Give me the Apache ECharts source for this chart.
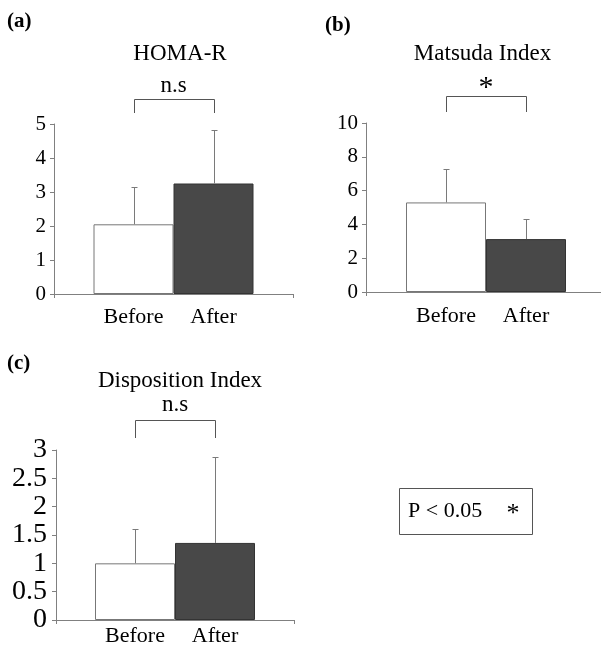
<!DOCTYPE html>
<html><head><meta charset="utf-8">
<script src="https://cdn.jsdelivr.net/npm/echarts@6/dist/echarts.min.js"></script>
<style>html,body{margin:0;padding:0;background:#fff}#c{width:601px;height:648px}</style>
</head><body><div id="c"></div>
<script>
// ---- data ----
const groups = ['Before', 'After'];
const panelTitles = ['HOMA-R', 'Matsuda Index', 'Disposition Index'];
const panelTags = ['(a)', '(b)', '(c)'];
const sigLabels = ['n.s', '*', 'n.s'];
const beforeMeans = [2.05, 5.3, 1.0];
const afterMeans = [3.25, 3.13, 1.36];
const beforeUpper = [3.15, 7.27, 1.6];   // mean + SD
const afterUpper = [4.83, 4.3, 2.88];    // mean + SD
const yMax = [5, 10, 3];
const yInterval = [1, 2, 0.5];
const legendText = 'P < 0.05';
const legendMark = '*';

// ---- styles / layout ----
const FONT = '"Liberation Serif", "Times New Roman", serif';
const AXIS_COLOR = '#808080';
const BAR_W = 80;
const grids = [
  { left: 54, top: 124, width: 239, height: 170 },
  { left: 366, top: 123, width: 240, height: 169 },
  { left: 56, top: 450, width: 238, height: 170 }
];
const tickFont = [21, 21, 28];
const tickMargin = [8, 8, 9];
const catLabelDist = [12, 13, 5];
const bracketOff = [
  { top: 25, bottom: 11, text: -2.5, size: 23 },
  { top: 27, bottom: 11, text: 6.5, size: 30 },
  { top: 30, bottom: 12, text: -4.5, size: 23 }
];
const titlePos = [{ x: 180, y: 54 }, { x: 482.5, y: 53.5 }, { x: 180, y: 380.5 }];
const tagPos = [{ x: 7, y: 22 }, { x: 325, y: 25.5 }, { x: 7, y: 363.5 }];

const chart = echarts.init(document.getElementById('c'), null, { renderer: 'canvas' });

const gridOpts = grids.map(g => Object.assign({ outerBoundsMode: 'none', containLabel: false }, g));
const xAxes = grids.map((g, i) => ({
  type: 'category', gridIndex: i, data: [''],
  axisLine: { show: true, lineStyle: { color: AXIS_COLOR, width: 1 } },
  axisTick: { show: true, length: 4, lineStyle: { color: AXIS_COLOR } },
  axisLabel: { show: false }, splitLine: { show: false }
}));
const yAxes = grids.map((g, i) => ({
  type: 'value', gridIndex: i, min: 0, max: yMax[i], interval: yInterval[i],
  axisLine: { show: true, lineStyle: { color: AXIS_COLOR, width: 1 } },
  axisTick: { show: true, length: 4, lineStyle: { color: AXIS_COLOR } },
  axisLabel: { fontFamily: FONT, fontSize: tickFont[i], color: '#000', margin: tickMargin[i] },
  splitLine: { show: false }
}));

const series = [];
grids.forEach((g, i) => {
  const lbl = {
    show: true, position: 'bottom', distance: catLabelDist[i],
    formatter: p => p.seriesName,
    fontFamily: FONT, fontSize: 22, color: '#000'
  };
  series.push({
    type: 'bar', name: groups[0], xAxisIndex: i, yAxisIndex: i,
    data: [beforeMeans[i]], barWidth: BAR_W, barGap: '0%',
    itemStyle: { color: '#ffffff', borderColor: '#777777', borderWidth: 1 },
    label: lbl, silent: true, animation: false
  });
  series.push({
    type: 'bar', name: groups[1], xAxisIndex: i, yAxisIndex: i,
    data: [afterMeans[i]], barWidth: BAR_W, barGap: '0%',
    itemStyle: { color: '#484848', borderColor: '#333333', borderWidth: 1 },
    label: lbl, silent: true, animation: false
  });
  // error bars (upper only)
  series.push({
    type: 'custom', xAxisIndex: i, yAxisIndex: i, z: 5, silent: true, animation: false,
    encode: { x: 0, y: [1, 2] },
    data: [[0, beforeMeans[i], beforeUpper[i]], [0, afterMeans[i], afterUpper[i]]],
    renderItem: (params, api) => {
      const c = api.coord([api.value(0), 0])[0];
      const cx = Math.round(c + (params.dataIndex === 0 ? -BAR_W / 2 : BAR_W / 2)) + 0.5;
      const yM = api.coord([0, api.value(1)])[1];
      const yT = Math.round(api.coord([0, api.value(2)])[1]) + 0.5;
      const st = { stroke: '#7a7a7a', lineWidth: 1 };
      return {
        type: 'group', children: [
          { type: 'line', shape: { x1: cx, y1: yM, x2: cx, y2: yT }, style: st },
          { type: 'line', shape: { x1: cx - 3, y1: yT, x2: cx + 3, y2: yT }, style: st }
        ]
      };
    }
  });
  // significance bracket
  series.push({
    type: 'custom', xAxisIndex: i, yAxisIndex: i, z: 5, silent: true, animation: false,
    encode: { x: 0, y: 1 },
    data: [[0, 0]],
    renderItem: (params, api) => {
      const cs = params.coordSys;
      const c = api.coord([0, 0])[0];
      const l = Math.round(c - BAR_W / 2) + 0.5, r = Math.round(c + BAR_W / 2) + 0.5;
      const o = bracketOff[i];
      const yt = Math.round(cs.y - o.top) + 0.5, yb = cs.y - o.bottom;
      return {
        type: 'group', children: [
          { type: 'polyline', shape: { points: [[l, yb], [l, yt], [r, yt], [r, yb]] },
            style: { stroke: '#555555', lineWidth: 1, fill: null } },
          { type: 'text', style: { text: sigLabels[i], x: c, y: yt + o.text,
            textAlign: 'center', textVerticalAlign: 'bottom',
            font: o.size + 'px ' + FONT, fill: '#000' } }
        ]
      };
    }
  });
});

const graphic = [];
grids.forEach((g, i) => {
  graphic.push({ type: 'text', x: titlePos[i].x, y: titlePos[i].y,
    style: { text: panelTitles[i], font: '23px ' + FONT, fill: '#000', textAlign: 'center', textVerticalAlign: 'middle' } });
  graphic.push({ type: 'text', x: tagPos[i].x, y: tagPos[i].y,
    style: { text: panelTags[i], font: 'bold 21px ' + FONT, fill: '#000', textAlign: 'left', textVerticalAlign: 'middle' } });
});
graphic.push({ type: 'rect', shape: { x: 399.5, y: 488.5, width: 133, height: 46 },
  style: { fill: '#fff', stroke: '#555', lineWidth: 1 } });
graphic.push({ type: 'text', x: 408, y: 511.5,
  style: { text: legendText, font: '22px ' + FONT, fill: '#000', textAlign: 'left', textVerticalAlign: 'middle' } });
graphic.push({ type: 'text', x: 513, y: 514.5,
  style: { text: legendMark, font: '26px ' + FONT, fill: '#000', textAlign: 'center', textVerticalAlign: 'middle' } });

chart.setOption({
  animation: false,
  backgroundColor: '#ffffff',
  grid: gridOpts,
  xAxis: xAxes,
  yAxis: yAxes,
  series: series,
  graphic: graphic
});
</script>
</body></html>
